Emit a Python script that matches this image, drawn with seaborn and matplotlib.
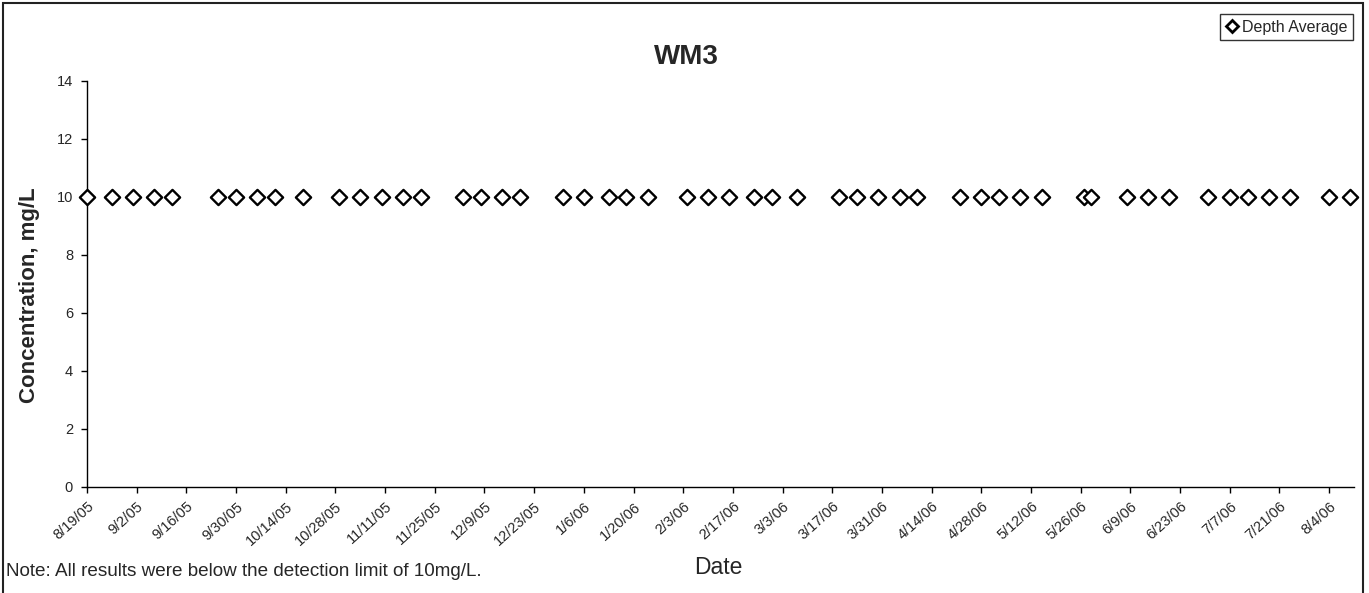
import matplotlib
matplotlib.use("Agg")
import matplotlib.pyplot as plt
from matplotlib.patches import Rectangle
from matplotlib.lines import Line2D
import seaborn as sns
import pandas as pd

# ---- data ----
sample_dates = [
    "2005-08-19", "2005-08-26", "2005-09-01", "2005-09-07", "2005-09-12",
    "2005-09-25", "2005-09-30", "2005-10-06", "2005-10-11", "2005-10-19",
    "2005-10-29", "2005-11-04", "2005-11-10", "2005-11-16", "2005-11-21",
    "2005-12-03", "2005-12-08", "2005-12-14", "2005-12-19", "2005-12-31",
    "2006-01-06", "2006-01-13", "2006-01-18", "2006-01-24", "2006-02-04",
    "2006-02-10", "2006-02-16", "2006-02-23", "2006-02-28", "2006-03-07",
    "2006-03-19", "2006-03-24", "2006-03-30", "2006-04-05", "2006-04-10",
    "2006-04-22", "2006-04-28", "2006-05-03", "2006-05-09", "2006-05-15",
    "2006-05-27", "2006-05-29", "2006-06-08", "2006-06-14", "2006-06-20",
    "2006-07-01", "2006-07-07", "2006-07-12", "2006-07-18", "2006-07-24",
    "2006-08-04", "2006-08-10",
]
concentration = [10.0] * len(sample_dates)
series_name = "Depth Average"
axis_start = "2005-08-19"
axis_end = "2006-08-11"
tick_step_days = 14
y_ticks = [0, 2, 4, 6, 8, 10, 12, 14]

df = pd.DataFrame({"Date": pd.to_datetime(sample_dates),
                   "Concentration": concentration})

sns.set_style("white")
plt.rcParams["font.family"] = ["Liberation Sans", "DejaVu Sans"]

W, H = 1369, 593
fig = plt.figure(figsize=(W / 100, H / 100), dpi=100)
fig.patch.set_facecolor("white")

# outer chart border
fig.patches.append(Rectangle((3 / W, -0.05), (1363 - 3) / W, 1 - 3 / H + 0.05,
                             transform=fig.transFigure, fill=False,
                             edgecolor="#222222", linewidth=1.5, zorder=0))

ax = fig.add_axes([87 / W, 1 - 487 / H, (1354 - 87) / W, (487 - 81) / H])
ax.set_facecolor("white")

sns.scatterplot(data=df, x="Date", y="Concentration", ax=ax, marker="D",
                s=60, facecolor="white", edgecolor="black", linewidth=1.7,
                clip_on=False, zorder=5, legend=False)

start = pd.Timestamp(axis_start)
end = pd.Timestamp(axis_end)
ax.set_xlim(start, end)
ax.set_ylim(0, 14)
ax.set_yticks(y_ticks)
ax.set_yticklabels([str(v) for v in y_ticks], fontsize=10.5)

ticks = pd.date_range(start, end, freq=f"{tick_step_days}D")
ax.set_xticks(ticks)
ax.set_xticklabels([f"{t.month}/{t.day}/{t.strftime('%y')}" for t in ticks],
                   rotation=42, ha="right", rotation_mode="anchor", fontsize=10.5)

for side in ["top", "right"]:
    ax.spines[side].set_visible(False)
for side in ["left", "bottom"]:
    ax.spines[side].set_color("black")
    ax.spines[side].set_linewidth(1.0)
ax.tick_params(axis="y", direction="out", length=4, width=1, color="black",
               left=True, pad=6)
ax.tick_params(axis="x", direction="out", length=4, width=1, color="black",
               bottom=True, pad=5)
ax.grid(False)

ax.set_xlabel("")
ax.set_ylabel("")

fig.text(686 / W, 1 - 57 / H, "WM3", fontsize=20, fontweight="bold",
         ha="center", va="center")
fig.text(30 / W, 1 - 295 / H, "Concentration, mg/L", fontsize=16,
         fontweight="bold", rotation=90, ha="center", va="center")
fig.text(718 / W, 1 - 568 / H, "Date", fontsize=16.5, ha="center", va="center")
fig.text(6 / W, 1 - 571 / H, "Note: All results were below the detection limit of 10mg/L.",
         fontsize=13.6, ha="left", va="center")

handle = Line2D([], [], linestyle="none", marker="D", markersize=6,
                markerfacecolor="white", markeredgecolor="black",
                markeredgewidth=2)
leg = fig.legend([handle], [series_name], loc="upper right",
                 bbox_to_anchor=(1353 / W, 1 - 14 / H), fontsize=11.5,
                 frameon=True, fancybox=False, handlelength=0.7,
                 handletextpad=0.3, borderpad=0.35, borderaxespad=0)
leg.get_frame().set_edgecolor("black")
leg.get_frame().set_linewidth(1.0)

fig.savefig("out.png", dpi=100, facecolor="white")
